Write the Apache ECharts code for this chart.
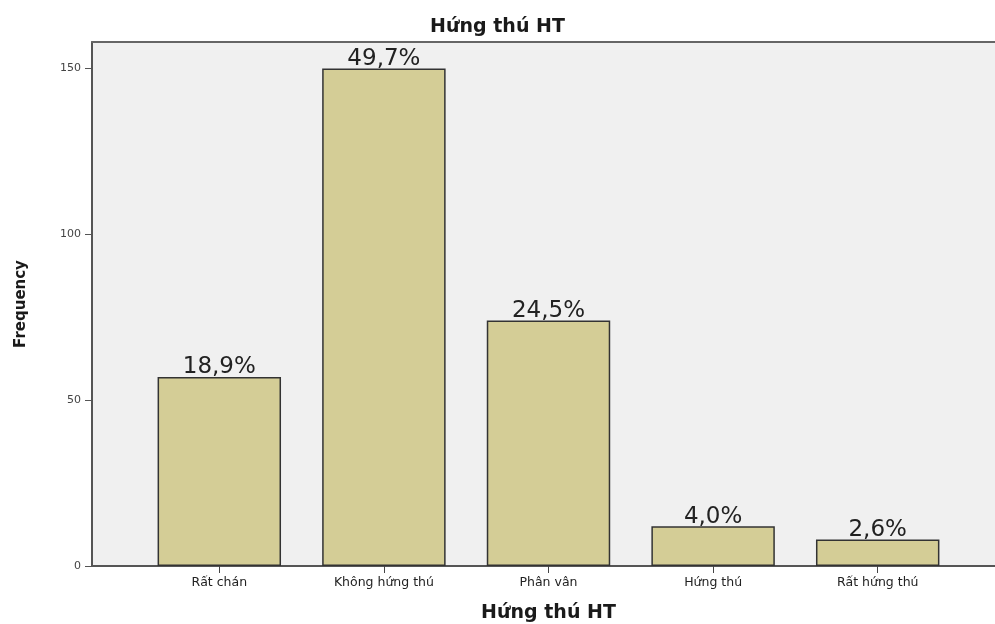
<!DOCTYPE html>
<html>
<head>
<meta charset="utf-8">
<script src="https://cdn.jsdelivr.net/npm/echarts@6/dist/echarts.min.js"></script>
<style>
html,body{margin:0;padding:0;background:#fff;}
#c{width:995px;height:624px;}
</style>
</head>
<body>
<div id="c"></div>
<script>
var categories = ['Rất chán', 'Không hứng thú', 'Phân vân', 'Hứng thú', 'Rất hứng thú'];
var frequency = [57, 150, 74, 12, 8];
var percentLabels = ['18,9%', '49,7%', '24,5%', '4,0%', '2,6%'];
var yTicks = [0, 50, 100, 150];

var chart = echarts.init(document.getElementById('c'));
var font = 'DejaVu Sans, Liberation Sans, Arial, sans-serif';
chart.setOption({
  animation: false,
  backgroundColor: '#ffffff',
  title: {
    text: 'Hứng thú HT',
    left: 'center',
    top: 13,
    textStyle: {fontFamily: font, fontSize: 19, fontWeight: 'bold', color: '#1a1a1a'}
  },
  grid: [
    {left: 137, right: 35, top: 42, bottom: 58, show: false, containLabel: false, outerBoundsMode: 'none'},
    {left: 92, right: 0, top: 42, bottom: 58, show: true, backgroundColor: '#f0f0f0', borderWidth: 0, z: 0, containLabel: false, outerBoundsMode: 'none'}
  ],
  xAxis: [
    {
      type: 'category', gridIndex: 0, data: categories,
      name: 'Hứng thú HT', nameLocation: 'middle', nameGap: 38,
      nameTextStyle: {fontFamily: font, fontSize: 19, fontWeight: 'bold', color: '#1a1a1a'},
      axisLine: {show: false},
      axisTick: {show: true, alignWithLabel: true, length: 7, lineStyle: {color: '#444', width: 1}},
      axisLabel: {fontFamily: font, fontSize: 12.5, color: '#222', margin: 10},
      splitLine: {show: false}
    },
    {
      type: 'value', gridIndex: 1, position: 'bottom', min: 0, max: 1,
      axisLine: {show: true, lineStyle: {color: '#555', width: 2}},
      axisTick: {show: false}, axisLabel: {show: false}, splitLine: {show: false}
    },
    {
      type: 'value', gridIndex: 1, position: 'top', min: 0, max: 1,
      axisLine: {show: true, lineStyle: {color: '#666', width: 2}},
      axisTick: {show: false}, axisLabel: {show: false}, splitLine: {show: false}
    }
  ],
  yAxis: [
    {
      type: 'value', gridIndex: 0, min: 0, max: 158, interval: 50,
      offset: 45,
      name: 'Frequency', nameLocation: 'middle', nameGap: 63,
      nameTextStyle: {fontFamily: font, fontSize: 15, fontWeight: 'bold', color: '#1a1a1a'},
      axisLine: {show: true, lineStyle: {color: '#555', width: 2}},
      axisTick: {show: true, length: 7, lineStyle: {color: '#555', width: 1}},
      axisLabel: {fontFamily: font, fontSize: 11, color: '#444', margin: 11,
        showMaxLabel: false,
        formatter: function (v) { return yTicks.indexOf(v) >= 0 ? String(v) : ''; }},
      splitLine: {show: false}
    },
    {
      type: 'value', gridIndex: 1, min: 0, max: 1, show: false
    }
  ],
  series: [{
    type: 'bar',
    xAxisIndex: 0, yAxisIndex: 0,
    data: frequency,
    barCategoryGap: '25%',
    z: 5,
    itemStyle: {color: '#d4cd96', borderColor: '#333', borderWidth: 1.5},
    label: {
      show: true, position: 'top', distance: -2,
      fontFamily: font, fontSize: 23, color: '#222',
      formatter: function (p) { return percentLabels[p.dataIndex]; }
    }
  }]
});
</script>
</body>
</html>
